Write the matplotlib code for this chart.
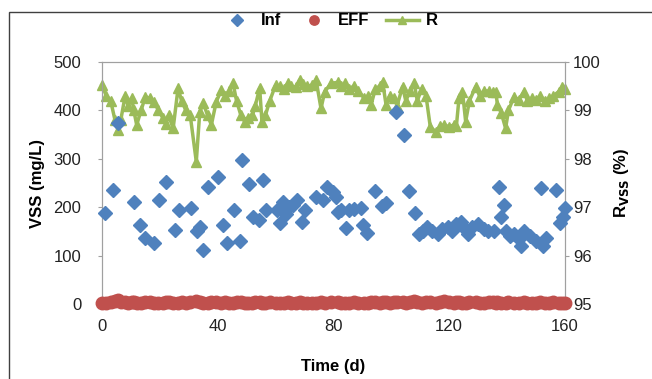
import matplotlib.pyplot as plt
from matplotlib.patches import Rectangle

plt.rcParams['font.family'] = ['Liberation Sans', 'DejaVu Sans']

# influent VSS (mg/L)
inf_day = [1.0, 3.9, 5.5, 11.1, 13.1, 14.8, 18.0, 19.8, 22.3, 25.2, 26.7, 30.9, 33.0, 33.8,
           34.9, 36.7, 40.1, 41.8, 43.3, 45.5, 47.6, 48.5, 50.8, 52.2, 54.2, 55.6, 56.8,
           60.5, 61.4, 62.5, 63.5, 64.5, 66.0, 67.5, 69.2, 70.0, 74.0, 76.3, 77.7, 79.8,
           80.9, 81.5, 82.6, 84.4, 85.5, 87.0, 89.5, 90.1, 91.5, 94.4, 96.9, 98.3, 101.6,
           104.5, 106.2, 108.3, 109.5, 111.0, 112.5, 114.0, 116.0, 117.5, 119.5, 121.0,
           122.5, 124.0, 125.5, 126.5, 128.0, 130.0, 132.0, 133.5, 135.5, 137.2, 137.8,
           139.0, 139.5, 141.0, 142.5, 144.0, 145.0, 146.0, 148.0, 150.0, 151.6, 152.5,
           153.5, 156.8, 158.3, 159.2, 160.0]
inf_vss = [189, 235, 375, 211, 163, 136, 125, 215, 253, 153, 194, 198, 150, 160,
           112, 242, 263, 163, 127, 194, 130, 298, 248, 180, 174, 256, 194,
           195, 168, 210, 185, 200, 205, 215, 170, 195, 222, 215, 242, 232,
           222, 191, 194, 156, 195, 196, 198, 163, 147, 233, 202, 209, 397,
           349, 233, 187, 145, 150, 160, 150, 145, 155, 160, 150,
           165, 170, 155, 145, 160, 165, 155, 150, 150, 242, 180,
           205, 150, 140, 145, 135, 120, 150, 140, 130, 240, 120,
           136, 236, 167, 180, 198]

# removal efficiency R (%) and effluent VSS (mg/L)
r_day = [0, 1.5, 3, 4.5, 5.5, 6.5, 8, 9, 10.3, 11, 12, 13.5, 15, 16.5, 18, 19.5, 21, 22,
         23, 24.6, 26.3, 27.5, 29, 30.5, 32.6, 33.8, 35, 36.5, 37.8, 39.5, 41.3, 42.5,
         44, 45.3, 46.5, 48, 49.3, 50.5, 52, 53, 54.5, 55.3, 56.5, 58, 60, 61.5, 63,
         64.2, 65.5, 67, 68.3, 69.5, 71, 72.5, 74, 75.7, 77, 79.2, 81.5, 82.5, 84, 85.5,
         87, 88.5, 90.7, 92, 93, 94.5, 96, 97, 98.2, 99.5, 101, 102, 103.9, 105, 106.5,
         107.9, 109, 110.5, 112, 113.5, 115.4, 117, 118.3, 120, 121.5, 122.5, 123.4,
         124.6, 125.7, 127, 129.2, 130.5, 132, 133.6, 135, 136.1, 136.7, 138, 139.5,
         140.5, 142.4, 144, 145.9, 147, 148.5, 150, 151.5, 153, 154.5, 156, 157.9,
         159.1, 160]
r_val = [99.52, 99.3, 99.2, 98.8, 98.6, 98.8, 99.3, 99.1, 99.25, 99.0, 98.7, 99.0, 99.28,
         99.25, 99.18, 99.0, 98.85, 98.72, 98.9, 98.63, 99.46, 99.2, 99.0, 98.9, 97.94,
         98.97, 99.15, 98.9, 98.7, 99.18, 99.42, 99.3, 99.4, 99.56, 99.2, 98.9, 98.77,
         98.85, 98.9, 99.1, 99.46, 98.77, 98.9, 99.2, 99.52, 99.5, 99.45, 99.56, 99.5,
         99.48, 99.63, 99.55, 99.5, 99.52, 99.63, 99.04, 99.39, 99.56, 99.58, 99.5,
         99.56, 99.45, 99.5, 99.4, 99.25, 99.3, 99.11, 99.45, 99.5, 99.59, 99.11, 99.3,
         99.25, 99.1, 99.49, 99.2, 99.4, 99.56, 99.2, 99.45, 99.3, 98.65, 98.56, 98.68,
         98.7, 98.66, 98.7, 98.68, 99.25, 99.39, 98.77, 99.2, 99.49, 99.3, 99.4, 99.4,
         99.38, 99.39, 99.11, 98.95, 98.63, 99.0, 99.28, 99.22, 99.39, 99.2, 99.25,
         99.22, 99.3, 99.2, 99.25, 99.3, 99.39, 99.49, 99.45]
eff_vss = [2, 3, 5, 6, 8, 5, 4, 3, 4, 5, 3, 2, 4, 5, 3, 2, 3, 4, 5, 3, 2, 4, 3, 5, 6,
           4, 3, 2, 4, 5, 3, 4, 2, 3, 4, 5, 3, 2, 3, 4, 5, 3, 2, 4, 3, 2, 3, 4, 2, 3,
           4, 3, 2, 3, 2, 4, 3, 4, 5, 3, 2, 3, 4, 3, 2, 3, 4, 5, 3, 4, 5, 3, 4, 5, 4,
           3, 5, 6, 4, 3, 5, 4, 3, 5, 6, 4, 3, 5, 4, 3, 2, 4, 5, 3, 2, 4, 5, 3, 4, 2,
           3, 4, 2, 3, 5, 3, 2, 3, 4, 3, 2, 4, 3, 2, 3]

blue = '#4F81BD'
red = '#C0504D'
green = '#9BBB59'

fig = plt.figure(figsize=(6.52, 3.79), dpi=100)
ax = fig.add_axes([0.1564, 0.1979, 0.71, 0.6385])
ax2 = ax.twinx()

ax.plot(inf_day, inf_vss, 'D', color=blue, markersize=7.5, label='Inf', clip_on=False, zorder=3)
ax.plot(r_day, eff_vss, 'o', color=red, markersize=9, label='EFF', clip_on=False, zorder=3)
ax2.plot(r_day, r_val, '-^', color=green, markersize=7.5, lw=2.5, label='R', clip_on=False)
ax.set_zorder(ax2.get_zorder() + 1)
ax.patch.set_visible(False)

ax.set_xlim(0, 160)
ax.set_ylim(0, 500)
ax2.set_ylim(95, 100)
ax.set_xticks([0, 40, 80, 120, 160])
ax.set_yticks([0, 100, 200, 300, 400, 500])
ax2.set_yticks([95, 96, 97, 98, 99, 100])

for a in (ax, ax2):
    for s in a.spines.values():
        s.set_color('#A0A0A0')
    a.tick_params(colors='#A0A0A0', labelcolor='#222222', labelsize=12, length=3)
ax.tick_params(axis='y', pad=12)
ax.tick_params(axis='x', pad=8)
ax2.tick_params(axis='y', pad=3)

ax.set_xlabel('Time (d)', fontsize=12, fontweight='bold', labelpad=18)
ax.set_ylabel('VSS (mg/L)', fontsize=12, fontweight='bold', labelpad=6)
ax2.set_ylabel('R$_{\\mathbf{VSS}}$ (%)', fontsize=12, fontweight='bold', labelpad=8)

h1, l1 = ax.get_legend_handles_labels()
h2, l2 = ax2.get_legend_handles_labels()
fig.legend(h1 + h2, l1 + l2, loc='center', bbox_to_anchor=(0.505, 0.945), ncol=3,
           frameon=False, prop={'weight': 'bold', 'size': 12}, handlelength=2,
           columnspacing=1.0, handletextpad=0.4, markerscale=0.75)

fig.patches.append(Rectangle((9 / 652, -0.1), 1.2, 1.1 - 12 / 379, transform=fig.transFigure,
                             fill=False, edgecolor='#404040', lw=1))

fig.savefig('out.png', dpi=100)
